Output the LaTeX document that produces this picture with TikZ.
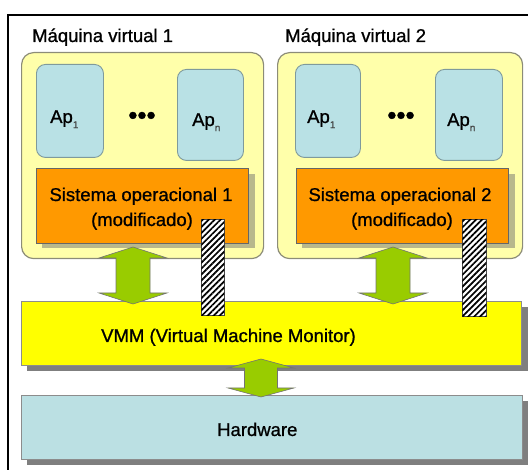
\documentclass[tikz,border=0pt]{standalone}
\usepackage{fontspec}
\setmainfont{Liberation Sans}[FakeBold=1.2]
\newfontfamily\heavyfont{Liberation Sans}[FakeBold=0.9]
\usetikzlibrary{patterns.meta}
\definecolor{vmyellow}{HTML}{FFFFAA}
\definecolor{vmedge}{HTML}{8C8C78}
\definecolor{apblue}{HTML}{B9E1E5}
\definecolor{apedge}{HTML}{7F9A9C}
\definecolor{osorange}{HTML}{FF9900}
\definecolor{osshadow}{HTML}{B8B88C}
\definecolor{vmmyellow}{HTML}{FFFF00}
\definecolor{hwblue}{HTML}{BBE0E3}
\definecolor{arrgreen}{HTML}{99CC00}
\definecolor{shadowgray}{HTML}{7F7F7F}
\tikzset{
  px/.style={x=1pt,y=-1pt},
  mainfont/.style={font=\heavyfont\fontsize{18.5}{25}\selectfont},
  vmbox/.style={draw=vmedge, fill=vmyellow, rounded corners=12pt, line width=1.2pt, inner sep=0pt, anchor=north west},
  apbox/.style={draw=apedge, fill=apblue, rounded corners=9pt, line width=0.9pt, inner sep=0pt, anchor=north west},
  osbox/.style={draw=black!60, fill=osorange, line width=0.8pt, inner sep=0pt, anchor=north west},
  vmmbox/.style={draw=black!45, fill=vmmyellow, line width=0.8pt, inner sep=0pt, anchor=north west},
  hwbox/.style={draw=black!45, fill=hwblue, line width=0.8pt, inner sep=0pt, anchor=north west},
  hatchbar/.style={draw=black!70, line width=0.8pt, fill=white,
    postaction={pattern={Lines[angle=45,distance=4.2pt,line width=1.7pt]}, pattern color=black},
    inner sep=0pt, anchor=north west},
  lbl/.style={mainfont, inner sep=0pt, anchor=base west},
  lblc/.style={mainfont, inner sep=0pt, anchor=base},
  dots/.style={font=\fontsize{26}{26}\selectfont, inner sep=0pt},
  greenarrow/.style={fill=arrgreen, draw=black!55, line width=0.6pt, line join=miter},
}
\newcommand{\apsub}[1]{\raisebox{-0.28em}{\fontsize{10}{10}\selectfont\color{black!75}#1}}
\begin{document}
\begin{tikzpicture}[px]
\useasboundingbox (0,0) rectangle (528,470);
% outer frame (right and bottom edges lie outside the picture)
\begin{scope}
\clip (0,0) rectangle (528,470);
\draw[line width=1.6pt] (8,480) -- (8,15) -- (540,15);
\end{scope}

% titles
\node[lbl] (t1) at (32,42) {Máquina virtual 1};
\node[lbl] (t2) at (285,42) {Máquina virtual 2};

% VM boxes
\node[vmbox, minimum width=242pt, minimum height=206pt] (vm1) at (21,52) {};
\node[vmbox, minimum width=245pt, minimum height=206pt] (vm2) at (277,52) {};

% application boxes
\node[apbox, minimum width=67pt, minimum height=93pt] (ap11) at (36,64) {};
\node[apbox, minimum width=66pt, minimum height=91pt] (ap1n) at (177,69) {};
\node[apbox, minimum width=65pt, minimum height=93pt] (ap21) at (295,64) {};
\node[apbox, minimum width=67pt, minimum height=91pt] (ap2n) at (435,69) {};
\node[lbl] (ap11t) at (50,123) {Ap\apsub{1}};
\node[lbl] (ap1nt) at (192,126) {Ap\apsub{n}};
\node[lbl] (ap21t) at (307,123) {Ap\apsub{1}};
\node[lbl] (ap2nt) at (447,126) {Ap\apsub{n}};
\node[dots] (d1) at (142,118) {•••};
\node[dots] (d2) at (401,118) {•••};

% OS boxes with shadow
\fill[osshadow] (42,174) rectangle (255,248);
\fill[osshadow] (302,174) rectangle (515,248);
\node[osbox, minimum width=212pt, minimum height=75pt] (os1) at (36,168) {};
\node[osbox, minimum width=212pt, minimum height=75pt] (os2) at (296,168) {};
\node[lblc] (os1a) at (141,201) {Sistema operacional 1};
\node[lblc] (os1b) at (142,226) {(modificado)};
\node[lblc] (os2a) at (400,201) {Sistema operacional 2};
\node[lblc] (os2b) at (402,226) {(modificado)};

% VMM and hardware with shadows
\fill[shadowgray] (27,307) rectangle (528,371);
\fill[shadowgray] (27,401) rectangle (528,465);
\node[vmmbox, minimum width=500pt, minimum height=64pt] (vmm) at (21,301) {};
\node[hwbox, minimum width=501pt, minimum height=64pt] (hw) at (21,395) {};
\node[lbl] (vmmt) at (101,342) {VMM (Virtual Machine Monitor)};
\node[lbl] (hwt) at (217,436) {Hardware};

% green double arrows
\newcommand{\dblarrow}[6]{% cx, top, bottom, head half, shaft half, head length
  \draw[greenarrow] (#1,#2) -- ({#1+#4},{#2+#6}) -- ({#1+#5},{#2+#6}) -- ({#1+#5},{#3-#6})
    -- ({#1+#4},{#3-#6}) -- (#1,#3) -- ({#1-#4},{#3-#6}) -- ({#1-#5},{#3-#6})
    -- ({#1-#5},{#2+#6}) -- ({#1-#4},{#2+#6}) -- cycle;}
\dblarrow{133}{247}{304}{34}{17}{11}
\dblarrow{393}{247}{304}{34}{17}{11}
\dblarrow{261}{359}{397}{33}{16.5}{9}

% hatched bars (direct channel OS -> VMM)
\node[hatchbar, minimum width=23pt, minimum height=96pt] (h1) at (201,219) {};
\node[hatchbar, minimum width=24pt, minimum height=97pt] (h2) at (462,219) {};
\end{tikzpicture}
\end{document}
